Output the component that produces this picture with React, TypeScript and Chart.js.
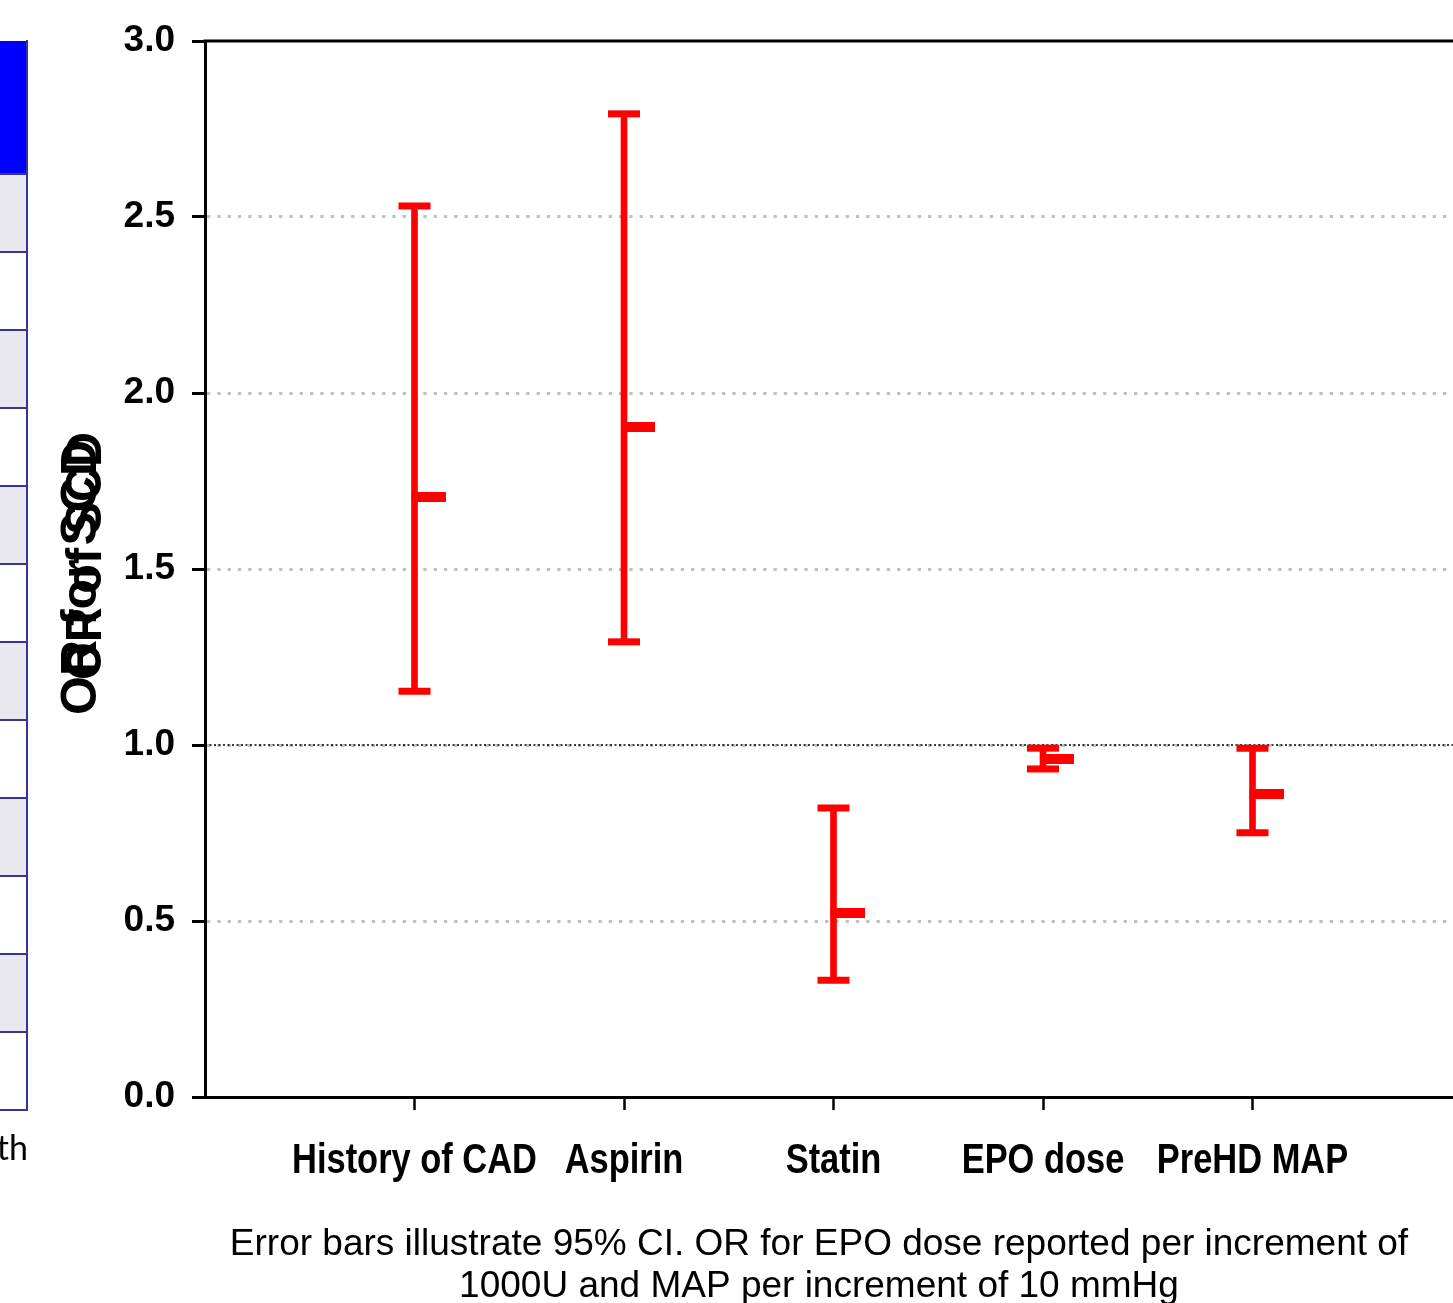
import React, { useEffect, useRef } from "react";
import { Chart, registerables } from "chart.js";

Chart.register(...registerables);

// ---- data ----
const categories = ["History of CAD", "Aspirin", "Statin", "EPO dose", "PreHD MAP"];
const oddsRatio = [1.705, 1.903, 0.523, 0.96, 0.861];
const ciLower = [1.153, 1.293, 0.332, 0.932, 0.751];
const ciUpper = [2.531, 2.793, 0.821, 0.991, 0.991];
const yTicks = [0, 0.5, 1.0, 1.5, 2.0, 2.5, 3.0];
const referenceValue = 1.0;
const yTitleA = "OR of SCD";
const yTitleB = "OR for SCD";
const footnote = [
  "Error bars illustrate 95% CI. OR for EPO dose reported per increment of",
  "1000U and MAP per increment of 10 mmHg",
];
const tableRowHeights = [134, 78, 78, 78, 78, 78, 78, 78, 78, 78, 78, 78, 78];

const RED = "#ff0000";
const ARIAL = "'Liberation Sans', Arial, sans-serif";

function makeMeanMarker(): HTMLCanvasElement {
  const c = document.createElement("canvas");
  c.width = 62;
  c.height = 10;
  const g = c.getContext("2d")!;
  g.fillStyle = RED;
  g.fillRect(28, 0, 34, 10);
  return c;
}

const overlayPlugin = {
  id: "overlay",
  beforeDatasetsDraw(chart: any) {
    const { ctx, chartArea, scales } = chart;
    const y = scales.y.getPixelForValue(referenceValue);
    ctx.save();
    ctx.strokeStyle = "#000";
    ctx.lineWidth = 1.5;
    ctx.setLineDash([2, 2.5]);
    ctx.beginPath();
    ctx.moveTo(chartArea.left, y);
    ctx.lineTo(chartArea.right, y);
    ctx.stroke();
    ctx.setLineDash([]);
    // top frame line at the y-axis maximum
    const yTop = scales.y.getPixelForValue(yTicks[yTicks.length - 1]);
    ctx.lineWidth = 3;
    ctx.beginPath();
    ctx.moveTo(chartArea.left - 1.5, yTop);
    ctx.lineTo(chartArea.right, yTop);
    ctx.stroke();
    ctx.restore();
  },
  afterDraw(chart: any) {
    const { ctx, scales } = chart;
    ctx.save();
    ctx.fillStyle = "#000";

    // category labels (condensed bold)
    const xs = scales.x;
    ctx.font = `bold 42px ${ARIAL}`;
    ctx.textAlign = "center";
    ctx.textBaseline = "alphabetic";
    xs.ticks.forEach((t: any) => {
      const label = categories[Math.round(t.value) - 1];
      if (!label) return;
      const px = xs.getPixelForValue(t.value);
      ctx.save();
      ctx.translate(px, 1173);
      ctx.scale(0.82, 1);
      ctx.fillText(label, 0, 0);
      ctx.restore();
    });

    // overlapping y-axis titles
    ctx.font = `bold 50px ${ARIAL}`;
    ctx.textAlign = "right";
    ctx.save();
    ctx.translate(96, 440);
    ctx.rotate(-Math.PI / 2);
    ctx.fillText(yTitleB, 0, 0);
    ctx.restore();
    ctx.save();
    ctx.translate(101, 432);
    ctx.rotate(-Math.PI / 2);
    ctx.scale(0.97, 1);
    ctx.fillText(yTitleA, 0, 0);
    ctx.restore();

    // footnote
    ctx.font = `37px ${ARIAL}`;
    ctx.textAlign = "center";
    ctx.fillText(footnote[0], 819, 1255);
    ctx.fillText(footnote[1], 819, 1297);
    ctx.restore();
  },
};

export default function App() {
  const canvasRef = useRef<HTMLCanvasElement | null>(null);

  useEffect(() => {
    const canvas = canvasRef.current;
    if (!canvas) return;
    const positions = categories.map((_, i) => i + 1);
    const meanMarker = makeMeanMarker();

    const chart = new Chart(canvas, {
      type: "bar",
      data: {
        datasets: [
          {
            type: "scatter",
            label: "OR",
            data: positions.map((x, i) => ({ x, y: oddsRatio[i] })),
            pointStyle: meanMarker as any,
            pointRadius: 5,
            pointHoverRadius: 5,
            showLine: false,
          } as any,
          {
            type: "scatter",
            label: "upper",
            data: positions.map((x, i) => ({ x, y: ciUpper[i] })),
            pointStyle: "line",
            pointRadius: 16,
            pointHoverRadius: 16,
            pointBorderWidth: 7,
            pointHoverBorderWidth: 7,
            borderColor: RED,
            backgroundColor: RED,
            showLine: false,
          } as any,
          {
            type: "scatter",
            label: "lower",
            data: positions.map((x, i) => ({ x, y: ciLower[i] })),
            pointStyle: "line",
            pointRadius: 16,
            pointHoverRadius: 16,
            pointBorderWidth: 7,
            pointHoverBorderWidth: 7,
            borderColor: RED,
            backgroundColor: RED,
            showLine: false,
          } as any,
          {
            type: "bar",
            label: "CI",
            data: positions.map((x, i) => ({ x, y: [ciLower[i], ciUpper[i]] })) as any,
            backgroundColor: RED,
            borderWidth: 0,
            barThickness: 6,
          } as any,
        ],
      },
      options: {
        responsive: false,
        animation: false,
        devicePixelRatio: 1,
        layout: { autoPadding: false, padding: { top: 41, right: 18, left: 0, bottom: 0 } },
        plugins: {
          legend: { display: false },
          tooltip: { enabled: false },
          title: { display: false },
        },
        scales: {
          x: {
            type: "linear",
            position: "bottom",
            min: 0,
            max: 6,
            offset: false,
            afterBuildTicks: (s: any) => {
              s.ticks = positions.map((v) => ({ value: v }));
            },
            afterFit: (s: any) => {
              s.height = 206;
            },
            grid: {
              display: true,
              offset: false,
              drawOnChartArea: false,
              drawTicks: true,
              tickLength: 13,
              tickColor: "#000",
              tickWidth: 2.5,
            },
            border: { display: true, color: "#000", width: 3 },
            ticks: { display: false },
          },
          y: {
            type: "linear",
            min: 0,
            max: 3,
            afterBuildTicks: (s: any) => {
              s.ticks = yTicks.map((v) => ({ value: v }));
            },
            afterFit: (s: any) => {
              s.width = 205;
            },
            grid: {
              color: (c: any) =>
                c.tick && (c.tick.value === 0 || c.tick.value === 3) ? "rgba(0,0,0,0)" : "#c0c0c0",
              lineWidth: 3,
              drawTicks: true,
              tickColor: "#000",
              tickWidth: 3,
              tickLength: 13,
            },
            border: { display: true, color: "#000", width: 3, dash: [3.3, 7] },
            ticks: {
              padding: 17,
              color: "#000",
              font: { family: ARIAL, size: 37, weight: "bold" },
              callback: (v: any) => Number(v).toFixed(1),
            },
          },
        } as any,
      },
      plugins: [overlayPlugin],
    });
    return () => chart.destroy();
  }, []);

  let top = 41;
  const rows = tableRowHeights.map((h, i) => {
    const el = (
      <div
        key={i}
        style={{
          position: "absolute",
          left: 0,
          top,
          width: 26,
          height: h,
          boxSizing: "border-box",
          background: i === 0 ? "#0000ff" : i % 2 === 1 ? "#e8e8ee" : "#ffffff",
          borderBottom: "2px solid #34349a",
        }}
      />
    );
    top += h;
    return el;
  });

  return (
    <div
      style={{
        position: "absolute",
        left: 0,
        top: 0,
        width: 1453,
        height: 1303,
        overflow: "hidden",
        background: "#ffffff",
      }}
    >
      <canvas
        ref={canvasRef}
        width={1480}
        height={1303}
        style={{ position: "absolute", left: 0, top: 0, width: 1480, height: 1303 }}
      />
      {rows}
      <div
        style={{
          position: "absolute",
          left: 26,
          top: 40,
          width: 2,
          height: top - 40,
          background: "#34349a",
        }}
      />
      <div
        style={{
          position: "absolute",
          left: -20,
          top: 1130,
          width: 48,
          textAlign: "right",
          font: "34px Lato, 'Open Sans', sans-serif",
          lineHeight: "34px",
          color: "#000",
        }}
      >
        th
      </div>
    </div>
  );
}
